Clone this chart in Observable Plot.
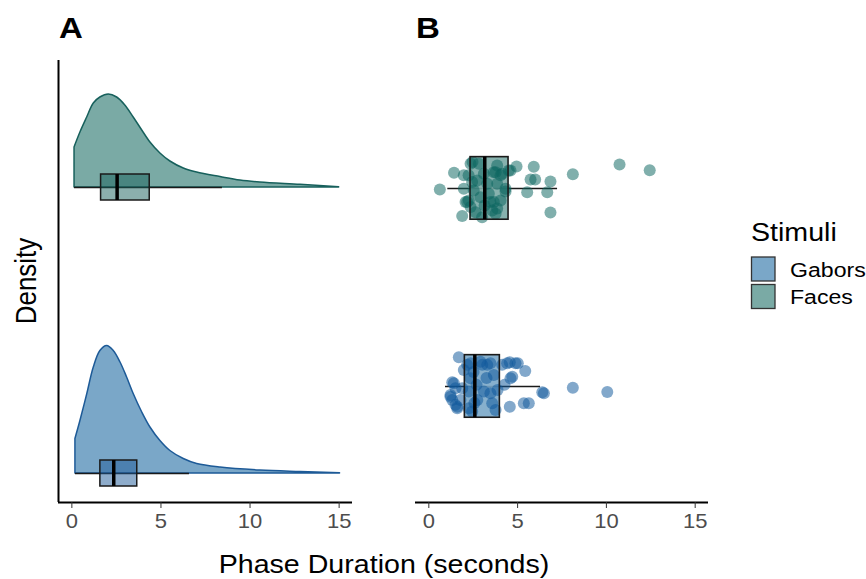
<!DOCTYPE html>
<html><head><meta charset="utf-8">
<script src="https://cdn.jsdelivr.net/npm/d3@7"></script>
<script src="https://cdn.jsdelivr.net/npm/@observablehq/plot@0.6"></script>
<style>
body{margin:0;background:#fff;}
#wrap{position:relative;width:866px;height:579px;font-family:"Liberation Sans",Arial,sans-serif;}
#wrap > svg{position:absolute;top:0;}
</style></head><body><div id="wrap"></div>
<script>
// ---------- data ----------
const stimuli = ["Gabors", "Faces"];
const fillColors = {Gabors: "#7aa7c8", Faces: "#7aaaa5"};
const lineColors = {Gabors: "#1d5a97", Faces: "#17605c"};
const pointColors = {Gabors: "#10589c", Faces: "#0c665f"};
const xTicks = [0, 5, 10, 15];

// density curves (panel A)
const facesDensX = [0.15,0.48,0.86,1.23,1.6,2.07,2.54,3.0,3.47,3.95,4.41,4.97,5.53,6.28,7.03,8.34,9.46,10.58,12.83,15.0];
const facesDensY = [0.080,0.110,0.140,0.168,0.180,0.186,0.180,0.164,0.140,0.114,0.090,0.068,0.052,0.038,0.030,0.021,0.014,0.010,0.0054,0.0006];
const gaborsDensX = [0.2,0.48,0.86,1.23,1.6,1.98,2.35,2.73,3.1,3.47,3.95,4.41,4.97,5.53,6.28,7.03,8.34,10.58,12.83,15.05];
const gaborsDensY = [0.069,0.105,0.158,0.212,0.245,0.255,0.245,0.222,0.192,0.159,0.122,0.092,0.065,0.045,0.029,0.019,0.012,0.006,0.003,0.0006];

// boxplot stats panel A [lo, q1, median, q3, hi]
const boxA_Faces = [0.15, 1.64, 2.54, 4.37, 8.45];
const boxA_Gabors = [0.2, 1.6, 2.35, 3.67, 6.6];
// boxplot stats panel B
const boxB_Faces = [1.07, 2.35, 3.15, 4.49, 7.25];
const boxB_Gabors = [0.94, 2.03, 2.59, 4.0, 6.29];

// jittered points panel B
const facesPtX = [0.62,1.42,1.97,1.88,2.46,2.35,2.44,2.25,2.16,2.73,2.91,3.0,3.10,3.38,3.47,3.66,3.85,4.04,4.13,4.32,4.60,4.94,2.53,1.97,2.82,3.57,2.35,3.29,3.76,2.63,3.85,4.50,4.32,5.54,5.73,5.99,5.91,6.67,6.85,6.85,8.11,10.74,12.44,3.76,4.04,3.66,2.07,3.85,3.14,2.24];
const facesPtJit = [-0.005,0.079,0.066,-0.139,0.133,0.125,0.032,-0.061,-0.069,0.040,-0.044,-0.145,0.074,-0.027,-0.069,0.082,0.024,-0.061,0.074,-0.002,0.091,0.111,-0.010,-0.002,0.125,-0.111,-0.094,0.024,-0.128,-0.120,0.116,0.091,-0.015,-0.019,0.045,0.045,0.110,-0.019,0.035,-0.121,0.071,0.121,0.092,0.082,0.066,-0.069,-0.069,-0.101,-0.086,0.066];
const gaborsPtX = [1.69,1.32,1.22,1.32,1.50,1.60,2.16,2.35,2.25,2.25,2.44,2.91,3.01,3.47,3.66,3.10,3.47,3.57,3.76,2.73,4.13,4.41,4.88,4.60,4.26,4.56,5.35,1.97,1.88,1.50,4.56,5.01,5.43,4.70,6.39,6.48,8.11,10.05,5.63,1.41,1.22,1.60,3.29,2.35,2.69,2.52,3.25,1.78,3.87,2.57];
const gaborsPtJit = [0.147,0.021,-0.043,-0.068,-0.093,-0.110,0.109,0.041,-0.026,-0.110,-0.127,0.125,0.109,0.117,0.058,-0.026,-0.034,-0.085,-0.119,-0.068,0.109,0.117,0.117,0.041,0.008,-0.102,-0.085,0.083,-0.009,-0.009,0.122,0.117,0.078,0.049,-0.029,-0.034,-0.006,-0.028,-0.085,0.016,-0.052,-0.102,0.109,0.117,0.008,0.073,0.043,-0.068,-0.018,-0.083];

// ---------- build tables ----------
const ridgeBase = {Gabors: 0, Faces: 0.572};   // panel A ridge baselines
const catPos = {Gabors: 1, Faces: 2};           // panel B category positions
const xDomain = [-0.75, 15.75];

const dens = [
  ...facesDensX.map((x, i) => ({s: "Faces", x, d: facesDensY[i]})),
  ...gaborsDensX.map((x, i) => ({s: "Gabors", x, d: gaborsDensY[i]}))
];
const mkBox = (s, b) => ({s, lo: b[0], q1: b[1], med: b[2], q3: b[3], hi: b[4]});
const boxA = [mkBox("Faces", boxA_Faces), mkBox("Gabors", boxA_Gabors)];
const boxB = [mkBox("Faces", boxB_Faces), mkBox("Gabors", boxB_Gabors)];
const pts = [
  ...facesPtX.map((x, i) => ({s: "Faces", x, j: facesPtJit[i]})),
  ...gaborsPtX.map((x, i) => ({s: "Gabors", x, j: gaborsPtJit[i]}))
];

const FONT = "Liberation Sans, Arial, sans-serif";
const wrap = document.getElementById("wrap");

function stretchTicks(svg) {
  d3.select(svg).selectAll('g[aria-label="x-axis tick label"] text').each(function() {
    const t = this.getAttribute("transform");
    if (t) this.setAttribute("transform", t + " scale(1.1,1)");
  });
}

// ---------- panel A ----------
const hA = 0.026;
const plotA = Plot.plot({
  width: 400, height: 579,
  marginLeft: 58, marginRight: 48, marginTop: 60, marginBottom: 77,
  style: {fontFamily: FONT, fontSize: "20px", color: "#4d4d4d", background: "transparent", overflow: "visible"},
  x: {domain: xDomain, axis: null},
  y: {domain: [-0.058, 0.826], axis: null},
  marks: [
    ...stimuli.map(s => Plot.areaY(dens.filter(d => d.s === s), {
      x: "x", y1: d => ridgeBase[d.s], y2: d => ridgeBase[d.s] + d.d,
      fill: fillColors[s], stroke: lineColors[s], strokeWidth: 1.5, curve: "catmull-rom"
    })),
    Plot.ruleY(boxA, {y: d => ridgeBase[d.s], x1: "lo", x2: "hi", stroke: "#1a1a1a", strokeWidth: 1.6}),
    Plot.rect(boxA, {x1: "q1", x2: "q3", y1: d => ridgeBase[d.s] - hA, y2: d => ridgeBase[d.s] + hA,
      fill: d => lineColors[d.s], fillOpacity: 0.5, stroke: "#1a1a1a", strokeWidth: 1.5}),
    Plot.ruleX(boxA, {x: "med", y1: d => ridgeBase[d.s] - hA, y2: d => ridgeBase[d.s] + hA, stroke: "#000", strokeWidth: 3.5}),
    Plot.ruleY([-0.058], {stroke: "#000", strokeWidth: 2}),
    Plot.ruleX([xDomain[0]], {stroke: "#000", strokeWidth: 2}),
    Plot.axisX({ticks: xTicks, tickSize: 6, tickPadding: 5, fontSize: 20, label: null, stroke: "#333", fill: "#4d4d4d", tickFormat: d3.format("d")})
  ]
});
plotA.style.left = "0px";
stretchTicks(plotA);
wrap.appendChild(plotA);

// ---------- panel B ----------
const hB = 0.158;
const plotB = Plot.plot({
  width: 466, height: 579,
  marginLeft: 15, marginRight: 158, marginTop: 60, marginBottom: 77,
  style: {fontFamily: FONT, fontSize: "20px", color: "#4d4d4d", background: "transparent", overflow: "visible"},
  x: {domain: xDomain, axis: null},
  y: {domain: [0.414, 2.646], axis: null},
  marks: [
    Plot.ruleY(boxB, {y: d => catPos[d.s], x1: "lo", x2: "hi", stroke: "#1a1a1a", strokeWidth: 1.6}),
    Plot.rect(boxB, {x1: "q1", x2: "q3", y1: d => catPos[d.s] - hB, y2: d => catPos[d.s] + hB,
      fill: d => fillColors[d.s], fillOpacity: 0.9}),
    Plot.dot(pts, {x: "x", y: d => catPos[d.s] + d.j, r: 6, fill: d => pointColors[d.s], fillOpacity: 0.52, stroke: "none"}),
    Plot.rect(boxB, {x1: "q1", x2: "q3", y1: d => catPos[d.s] - hB, y2: d => catPos[d.s] + hB,
      fill: "none", stroke: "#1a1a1a", strokeWidth: 1.6}),
    Plot.ruleX(boxB, {x: "med", y1: d => catPos[d.s] - hB, y2: d => catPos[d.s] + hB, stroke: "#000", strokeWidth: 3.5}),
    Plot.ruleY([0.414], {stroke: "#000", strokeWidth: 2}),
    Plot.axisX({ticks: xTicks, tickSize: 6, tickPadding: 5, fontSize: 20, label: null, stroke: "#333", fill: "#4d4d4d", tickFormat: d3.format("d")})
  ]
});
plotB.style.left = "400px";
stretchTicks(plotB);
wrap.appendChild(plotB);

// ---------- titles, labels, legend ----------
const ov = d3.select(wrap).append("svg")
  .attr("width", 866).attr("height", 579)
  .style("left", "0px").style("pointer-events", "none")
  .attr("font-family", FONT);

function label(txt, x, y, size, opts = {}) {
  const t = ov.append("text")
    .attr("transform", `translate(${x},${y}) scale(1.1,1)${opts.rotate ? " rotate(" + opts.rotate + ")" : ""}`)
    .attr("font-size", size)
    .attr("fill", opts.fill || "#000")
    .attr("text-anchor", opts.anchor || "start")
    .text(txt);
  if (opts.bold) t.attr("font-weight", "bold");
  return t;
}
label("A", 59, 38, 30, {bold: true});
label("B", 416, 38, 30, {bold: true});
label("Density", 36, 281, 26, {anchor: "middle", rotate: -90});
label("Phase Duration (seconds)", 384, 573, 26, {anchor: "middle"});

label("Stimuli", 751, 241, 26);
const legendItems = [{s: "Gabors", y: 257}, {s: "Faces", y: 284.5}];
legendItems.forEach(it => {
  ov.append("rect").attr("x", 751.5).attr("y", it.y).attr("width", 23.5).attr("height", 24)
    .attr("fill", fillColors[it.s]).attr("stroke", "#333").attr("stroke-width", 1.3);
  label(it.s, 790, it.y + 19.5, 21);
});
</script>
</body></html>
